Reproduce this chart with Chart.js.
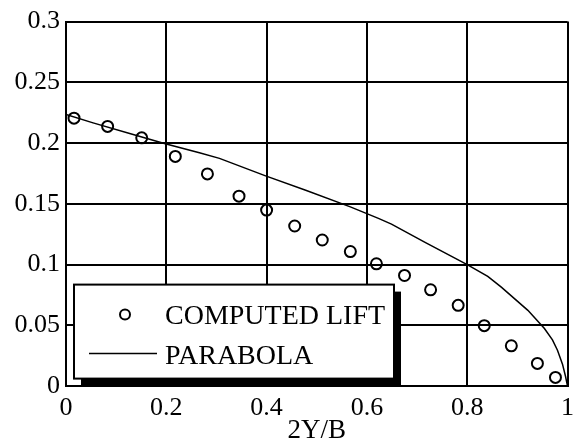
<!DOCTYPE html>
<html>
<head>
<meta charset="utf-8">
<script src="https://cdn.jsdelivr.net/npm/chart.js@4"></script>
<style>
  html, body { margin: 0; padding: 0; background: #fff; }
  #wrap { width: 581px; height: 447px; }
</style>
</head>
<body>
<div id="wrap"><canvas id="myChart" width="581" height="447"></canvas></div>
<script>
// computed lift points (2Y/B, value)
const liftX = [0.016, 0.083, 0.151, 0.218, 0.282, 0.345, 0.400, 0.456, 0.511, 0.567, 0.619, 0.675, 0.727, 0.782, 0.834, 0.888, 0.940, 0.976];
const liftY = [0.2205, 0.2137, 0.2043, 0.189, 0.1746, 0.1563, 0.1448, 0.1317, 0.1202, 0.1107, 0.1006, 0.0910, 0.0792, 0.0664, 0.0497, 0.0331, 0.0186, 0.0071];

// parabola curve
const paraX = [0, 0.054, 0.127, 0.196, 0.266, 0.306, 0.398, 0.478, 0.567, 0.623, 0.649, 0.716, 0.8, 0.841, 0.868, 0.921, 0.954, 0.97, 0.98, 0.99, 0.996, 1.0];
const paraY = [0.2235, 0.2166, 0.2079, 0.1997, 0.192, 0.1874, 0.173, 0.1612, 0.1475, 0.138, 0.1333, 0.1183, 0.1, 0.0902, 0.0814, 0.0623, 0.0473, 0.038, 0.0295, 0.018, 0.008, 0];

const xTicks = [0, 0.2, 0.4, 0.6, 0.8, 1];
const yTicks = [0, 0.05, 0.1, 0.15, 0.2, 0.25, 0.3];

const serif = 'Liberation Serif';

// boxed legend with a drop shadow, lower left of the plot
const boxLegend = {
    id: 'boxLegend',
    afterDatasetsDraw(chart) {
        const ctx = chart.ctx;
        const a = chart.chartArea;
        const x0 = a.left + 8, y0 = a.top + 263, w = 320, h = 94;
        ctx.save();
        ctx.fillStyle = '#000';
        ctx.fillRect(x0 + 7, y0 + 7, w, h);
        ctx.fillStyle = '#fff';
        ctx.fillRect(x0, y0, w, h);
        ctx.strokeStyle = '#000';
        ctx.lineWidth = 2;
        ctx.strokeRect(x0, y0, w, h);

        ctx.lineWidth = 2;
        ctx.beginPath();
        ctx.arc(x0 + 51, y0 + 30, 5, 0, Math.PI * 2);
        ctx.stroke();

        ctx.lineWidth = 1.5;
        ctx.beginPath();
        ctx.moveTo(x0 + 15, y0 + 69);
        ctx.lineTo(x0 + 83, y0 + 69);
        ctx.stroke();

        ctx.fillStyle = '#000';
        ctx.font = '28px "' + serif + '"';
        ctx.textBaseline = 'alphabetic';
        ctx.fillText('COMPUTED LIFT', x0 + 91, y0 + 39);
        ctx.fillText('PARABOLA', x0 + 91, y0 + 79);
        ctx.restore();
    }
};

var ctx = document.getElementById('myChart');
var myChart = new Chart(ctx, {
    type: 'scatter',
    data: {
        datasets: [{
            label: 'COMPUTED LIFT',
            data: liftX.map((x, i) => ({ x: x, y: liftY[i] })),
            showLine: false,
            pointStyle: 'circle',
            pointRadius: 5.5,
            pointBorderWidth: 2,
            borderColor: '#000',
            backgroundColor: 'rgba(0,0,0,0)',
        }, {
            label: 'PARABOLA',
            data: paraX.map((x, i) => ({ x: x, y: paraY[i] })),
            showLine: true,
            pointRadius: 0,
            borderWidth: 1.5,
            borderColor: '#000',
            backgroundColor: 'rgba(0,0,0,0)',
            tension: 0,
        }, ],
    },
    options: {
        responsive: false,
        animation: false,
        layout: { padding: { top: 20, right: 11, left: 0, bottom: 0 } },
        plugins: {
            legend: { display: false },
            tooltip: { enabled: false },
        },
        scales: {
            x: {
                type: 'linear',
                min: 0,
                max: 1,
                afterBuildTicks: s => { s.ticks = xTicks.map(v => ({ value: v })); },
                afterFit: s => { s.height = 61; },
                grid: { color: '#000', lineWidth: 2, drawTicks: false },
                border: { color: '#000', width: 2 },
                ticks: {
                    color: '#000',
                    padding: 7,
                    maxRotation: 0,
                    font: { family: serif, size: 26 },
                    callback: v => String(v),
                },
                title: {
                    display: true,
                    text: '2Y/B',
                    color: '#000',
                    font: { family: serif, size: 27 },
                    padding: 0,
                },
            },
            y: {
                type: 'linear',
                min: 0,
                max: 0.3,
                afterBuildTicks: s => { s.ticks = yTicks.map(v => ({ value: v })); },
                afterFit: s => { s.width = 66; },
                grid: { color: '#000', lineWidth: 2, drawTicks: false },
                border: { color: '#000', width: 2 },
                ticks: {
                    color: '#000',
                    padding: 6,
                    font: { family: serif, size: 26 },
                    callback: v => String(v),
                },
            },
        },
    },
    plugins: [boxLegend],
});
</script>
</body>
</html>
